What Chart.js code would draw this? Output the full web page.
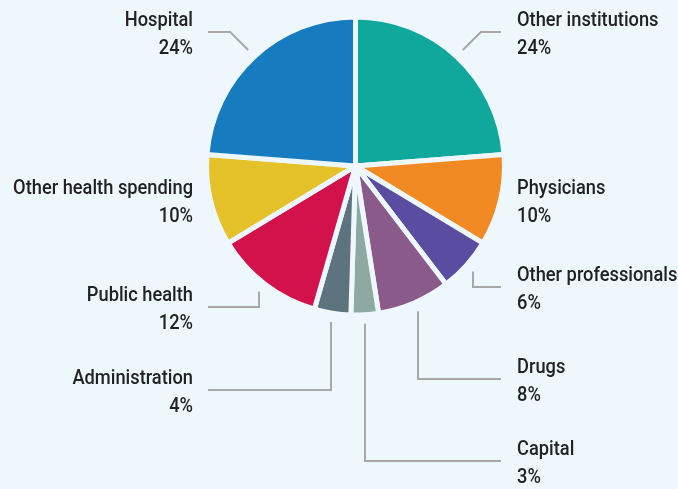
<!DOCTYPE html>
<html>
<head>
<meta charset="utf-8">
<script src="https://cdn.jsdelivr.net/npm/chart.js@4/dist/chart.umd.min.js"></script>
<style>
    html, body { margin: 0; padding: 0; background: #eef8fc; }
    #wrap { width: 678px; height: 489px; }
</style>
</head>
<body>
<div id="wrap"><canvas id="spendingChart" width="678" height="489"></canvas></div>
<script>
const categories = ['Other institutions', 'Physicians', 'Other professionals', 'Drugs', 'Capital',
    'Administration', 'Public health', 'Other health spending', 'Hospital'];
const shares = [24, 10, 6, 8, 3, 4, 12, 10, 24];
const sliceColors = ['#10a89d', '#f18a22', '#5a4ca0', '#8a5a8a', '#8ea9a2',
    '#5d737e', '#d3114b', '#e5c22a', '#177cbf'];

// label placement: side, vertical centre of the two text lines, leader style
const labelSide = ['right', 'right', 'right', 'right', 'right', 'left', 'left', 'left', 'left'];
const labelMidY = [32, 200, 287, 379, 461, 390, 307, 200, 32];
const leaderType = ['diag', 'none', 'vert', 'vert', 'vert', 'vert', 'vert', 'none', 'diag'];

const BG = '#eef8fc';
const FONT = 'Roboto, "Noto Sans", sans-serif';
const SQUEEZE = 0.87; // condensed look for the labels

// draws the category names, percentages and elbow leader lines
const sliceLabels = {
    id: 'sliceLabels',
    afterDatasetsDraw(chart) {
        const ctx = chart.ctx;
        const arcs = chart.getDatasetMeta(0).data;
        ctx.save();
        arcs.forEach(function (arc, i) {
            const p = arc.getProps(['x', 'y', 'startAngle', 'endAngle', 'outerRadius'], true);
            const mid = (p.startAngle + p.endAngle) / 2;
            const r = p.outerRadius + 9;
            const ax = p.x + Math.cos(mid) * r,
                ay = p.y + Math.sin(mid) * r;
            const y = labelMidY[i];
            const left = labelSide[i] === 'left';
            const textX = left ? 193 : 517;
            const lineEnd = left ? 208 : 501;

            ctx.strokeStyle = '#a8a8a8';
            ctx.lineWidth = 2;
            if (leaderType[i] === 'diag') {
                const dy = ay - y;
                const bx = ax + (left ? -dy : dy);
                ctx.beginPath();
                ctx.moveTo(ax, ay);
                ctx.lineTo(bx, y);
                ctx.lineTo(lineEnd, y);
                ctx.stroke();
            } else if (leaderType[i] === 'vert') {
                const vx = Math.round(ax);
                ctx.beginPath();
                ctx.moveTo(vx, ay);
                ctx.lineTo(vx, y);
                ctx.lineTo(lineEnd, y);
                ctx.stroke();
            }

            ctx.save();
            ctx.translate(textX, 0);
            ctx.scale(SQUEEZE, 1);
            ctx.fillStyle = '#222222';
            ctx.font = '500 21px ' + FONT;
            ctx.textAlign = left ? 'right' : 'left';
            ctx.textBaseline = 'alphabetic';
            ctx.fillText(categories[i], 0, y - 6);
            ctx.fillText(shares[i] + '%', 0, y + 22);
            ctx.restore();
        });
        ctx.restore();
    }
};

const ctx = document.getElementById('spendingChart');
new Chart(ctx, {
    type: 'pie',
    data: {
        labels: categories,
        datasets: [{
            data: shares,
            backgroundColor: sliceColors,
            borderColor: BG,
            borderWidth: 5
        }]
    },
    options: {
        responsive: false,
        animation: false,
        layout: {
            padding: { top: 14, bottom: 171, left: 204, right: 171 }
        },
        plugins: {
            legend: { display: false },
            tooltip: { enabled: false }
        }
    },
    plugins: [sliceLabels]
});
</script>
</body>
</html>
